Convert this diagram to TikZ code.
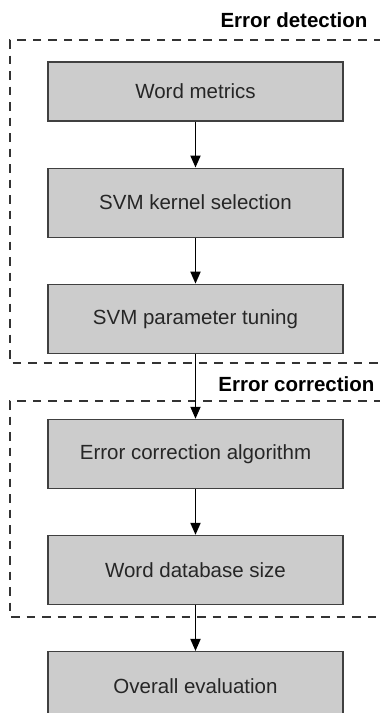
\documentclass[tikz,border=0pt]{standalone}
\usepackage{fontspec}
\setmainfont{Liberation Sans}
\usetikzlibrary{arrows.meta,positioning}

\begin{document}
\begin{tikzpicture}[
    x=1pt, y=1pt,
    node distance=46pt,
    font=\fontsize{20.5}{24}\selectfont,
    stage/.style={draw=black!75, fill=black!20, line width=1.1pt, minimum width=295pt, minimum height=69pt, text=black!85},
    region/.style={draw=black!80, dash pattern=on 8.5pt off 7pt, line width=2.1pt},
    regionlabel/.style={anchor=east, font=\fontsize{20.5}{24}\selectfont\bfseries},
    arrow/.style={-{Triangle[length=12pt,width=10pt]}, line width=1.8pt}
]
\useasboundingbox (0,0) rectangle (380,-713);
% dashed groups
\draw[region] (382,-40) -| (10,-363) -- (382,-363);
\draw[region] (382,-401) -| (10,-617) -- (382,-617);
\node[regionlabel] (detlabel) at (371,-20) {Error detection};
\node[regionlabel] (corlabel) at (378,-384) {Error correction};
% steps
\node[stage, minimum height=59pt] (metrics) at (195.5,-91.5) {Word metrics};
\node[stage, below=of metrics] (kernel) {SVM kernel selection};
\node[stage, below=of kernel] (tuning) {SVM parameter tuning};
\node[stage, below=65pt of tuning] (algo) {Error correction algorithm};
\node[stage, below=of algo] (dbsize) {Word database size};
\node[stage, below=of dbsize] (overall) {Overall evaluation};
\draw[arrow] (metrics) -- (kernel);
\draw[arrow] (kernel) -- (tuning);
\draw[arrow] (tuning) -- (algo);
\draw[arrow] (algo) -- (dbsize);
\draw[arrow] (dbsize) -- (overall);
\end{tikzpicture}
\end{document}
